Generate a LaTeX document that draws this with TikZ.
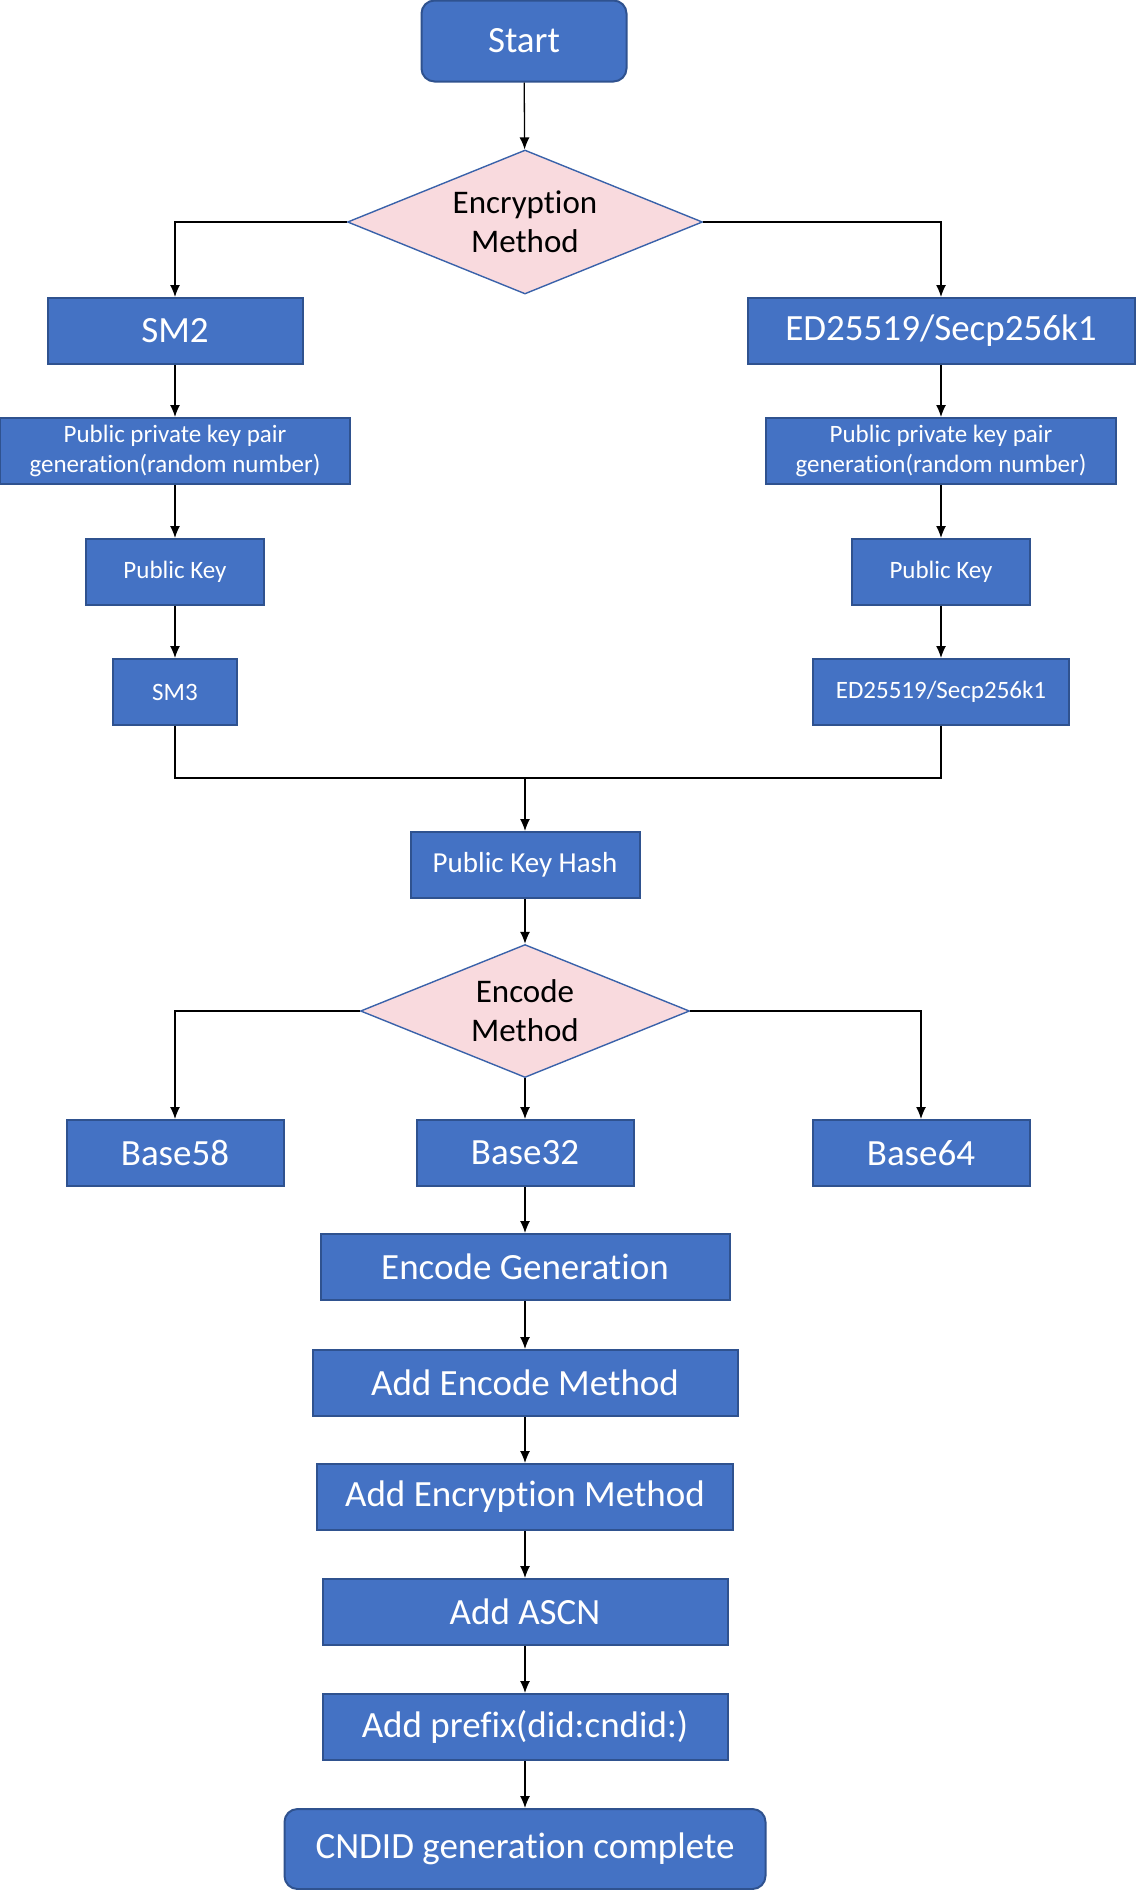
\documentclass[tikz,border=0pt]{standalone}
\usepackage{fontspec}
\setmainfont{Carlito}[Ligatures=NoCommon]
\usetikzlibrary{shapes.geometric,arrows.meta}
\definecolor{boxblue}{HTML}{4472C4}
\definecolor{boxedge}{HTML}{2F528F}
\definecolor{decpink}{HTML}{F9DADE}
\definecolor{decedge}{HTML}{3A62AA}
\tikzset{
  stepbox/.style={draw=boxedge, fill=boxblue, line width=1pt, text=white, inner sep=0pt, align=center},
  termbox/.style={stepbox, rounded corners=6.5pt},
  decbox/.style={diamond, aspect=2.47, draw=decedge, fill=decpink, line width=0.7pt, inner sep=0pt, align=center, text=black, font=\fontsize{16.5}{19.5}\selectfont},
  big/.style={font=\fontsize{18.5}{22}\selectfont},
  mid/.style={font=\fontsize{14.5}{17}\selectfont},
  small/.style={font=\fontsize{12.5}{15}\selectfont},
  link/.style={-{Latex[length=6pt,width=5pt]}, line width=0.65pt}
}
\begin{document}
\begin{tikzpicture}[x=0.5pt, y=-0.5pt]
\useasboundingbox (0,0) rectangle (1136,1890);

% top part
\node[termbox, big, minimum width=102.5pt, minimum height=40.5pt] (start) at (524,41) {Start};
\node[decbox, minimum width=177.5pt, minimum height=72pt] (encr) at (525,222) {Encryption\\Method};

% two branches
\node[stepbox, big, minimum width=127.5pt, minimum height=33pt] (sm2) at (175,331) {SM2};
\node[stepbox, big, minimum width=193.5pt, minimum height=33pt] (ed) at (941,331) {ED25519/Secp256k1};
\foreach \side/\x in {l/175, r/941}
{
  \node[stepbox, small, minimum width=175pt, minimum height=33pt] (ppk\side) at (\x,451) {Public private key pair\\generation(random number)};
  \node[stepbox, small, minimum width=89pt, minimum height=33pt] (pk\side) at (\x,572) {Public Key};
}
\node[stepbox, small, minimum width=62pt, minimum height=33pt] (sm3) at (175,692) {SM3};
\node[stepbox, small, minimum width=128pt, minimum height=33pt] (edh) at (941,692) {ED25519/Secp256k1};

\node[stepbox, mid, minimum width=114.5pt, minimum height=33pt] (pkh) at (525,865) {Public Key Hash};
\coordinate (join) at (525,778);
\node[decbox, minimum width=164.5pt, minimum height=66.5pt] (encm) at (525,1011) {Encode\\Method};

% encodings
\foreach \name/\x/\txt in {b58/175/Base58, b32/525/Base32, b64/921/Base64}
{
  \node[stepbox, big, minimum width=108.5pt, minimum height=33pt] (\name) at (\x,1153) {\txt};
}

% final chain
\foreach \name/\y/\w/\txt in {eg/1267/409/Encode Generation, aem/1383/425/Add Encode Method, aenc/1497/416/Add Encryption Method, ascn/1612/405/Add ASCN, pre/1727/405/Add prefix(did:cndid:)}
{
  \node[stepbox, big, minimum width=\w*0.5pt, minimum height=33pt] (\name) at (525,\y) {\txt};
}
\node[termbox, big, minimum width=240.5pt, minimum height=40pt] (done) at (525,1849) {CNDID generation complete};

% connectors
\draw[link] (start) -- (encr);
\draw[link] (encr.west) -| (sm2);
\draw[link] (encr.east) -| (ed);
\foreach \a/\b in {sm2/ppkl, ppkl/pkl, pkl/sm3, ed/ppkr, ppkr/pkr, pkr/edh}
{
  \draw[link] (\a) -- (\b);
}
\draw[line width=0.65pt] (sm3.south) |- (join) -| (edh.south);
\draw[link] (join) -- (pkh);
\draw[link] (pkh) -- (encm);
\draw[link] (encm.west) -| (b58);
\draw[link] (encm.east) -| (b64);
\foreach \a/\b in {encm/b32, b32/eg, eg/aem, aem/aenc, aenc/ascn, ascn/pre, pre/done}
{
  \draw[link] (\a) -- (\b);
}
\end{tikzpicture}
\end{document}
